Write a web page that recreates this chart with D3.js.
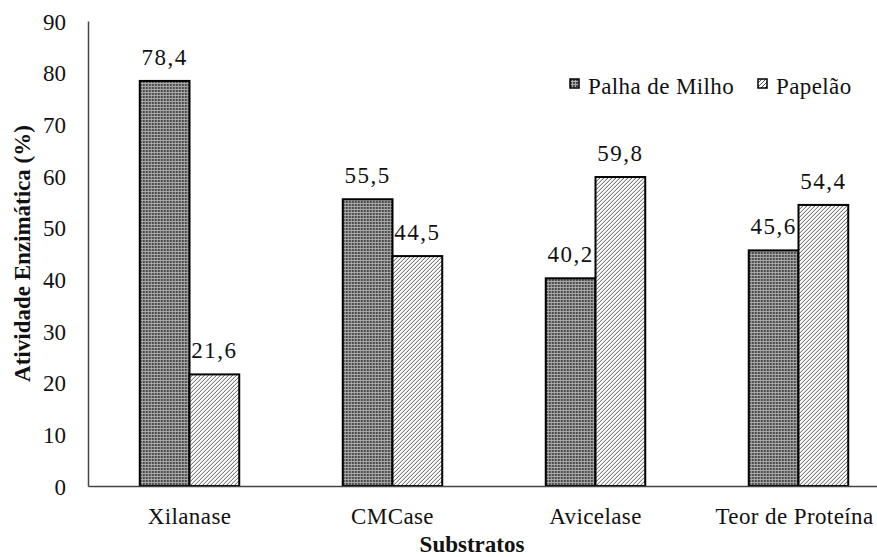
<!DOCTYPE html>
<html>
<head>
<meta charset="utf-8">
<script src="https://cdn.jsdelivr.net/npm/d3@7/dist/d3.min.js"></script>
<style>
  html, body { margin: 0; padding: 0; background: #fff; }
</style>
</head>
<body>
<svg id="chart" width="877" height="557"></svg>
<script>
// Enzyme activity by substrate, two straw sources
const categories = ["Xilanase", "CMCase", "Avicelase", "Teor de Proteína"];
const seriesNames = ["Palha de Milho", "Papelão"];
const palhaValues = [78.4, 55.5, 40.2, 45.6];
const papelaoValues = [21.6, 44.5, 59.8, 54.4];
const yTicks = [0, 10, 20, 30, 40, 50, 60, 70, 80, 90];

const FAMILY = "'Liberation Serif', 'Times New Roman', serif";
const FONT = 23;

const svg = d3.select("#chart");
const margin = { left: 88, top: 21, bottom: 486, right: 900 };

// Patterns: dotted dark fill and diagonal hatch
const defs = svg.append("defs");
const dots = defs.append("pattern").attr("id", "dots")
  .attr("patternUnits", "userSpaceOnUse").attr("width", 3).attr("height", 3);
dots.append("rect").attr("width", 3).attr("height", 3).attr("fill", "#a8a8a8");
dots.append("rect").attr("width", 2).attr("height", 2).attr("fill", "#4a4a4a");

const hatch = defs.append("pattern").attr("id", "hatch")
  .attr("patternUnits", "userSpaceOnUse").attr("width", 4).attr("height", 4);
hatch.append("rect").attr("width", 4).attr("height", 4).attr("fill", "#fff");
hatch.append("path").attr("d", "M-1,1 L1,-1 M0,4 L4,0 M3,5 L5,3")
  .attr("stroke", "#555").attr("stroke-width", 1);

const fills = ["url(#dots)", "url(#hatch)"];

const x0 = d3.scaleBand().domain(categories)
  .range([margin.left, margin.right]).paddingInner(0.51).paddingOuter(0.255);
const x1 = d3.scaleBand().domain(seriesNames).range([0, x0.bandwidth()]);
const y = d3.scaleLinear().domain([0, 90]).range([margin.bottom, margin.top]);

const rows = categories.map((c, i) => ({ cat: c, vals: [palhaValues[i], papelaoValues[i]] }));

// Bars
const groups = svg.append("g").selectAll("g").data(rows).join("g")
  .attr("transform", d => `translate(${x0(d.cat)},0)`);
groups.selectAll("rect").data(d => d.vals.map((v, j) => ({ v, j })))
  .join("rect")
  .attr("x", d => x1(seriesNames[d.j]))
  .attr("y", d => y(d.v))
  .attr("width", x1.bandwidth())
  .attr("height", d => y(0) - y(d.v))
  .attr("fill", d => fills[d.j])
  .attr("stroke", "#000").attr("stroke-width", 2);

// Value labels
groups.selectAll("text").data(d => d.vals.map((v, j) => ({ v, j })))
  .join("text")
  .attr("x", d => x1(seriesNames[d.j]) + x1.bandwidth() / 2)
  .attr("y", d => y(d.v) - 16)
  .attr("text-anchor", "middle")
  .style("font-family", FAMILY).style("font-size", FONT + "px")
  .attr("letter-spacing", 1.5)
  .attr("fill", "#111")
  .text(d => d3.format(".1f")(d.v).replace(".", ","));

// Y axis
const yAxis = d3.axisLeft(y).tickValues(yTicks).tickSize(0).tickPadding(22);
const gy = svg.append("g").attr("transform", `translate(${margin.left},0)`).call(yAxis);
gy.select(".domain").attr("stroke", "#444").attr("stroke-width", 1.5);
gy.selectAll("text").style("font-family", FAMILY).style("font-size", FONT + "px")
  .attr("fill", "#111").attr("dy", "0.35em");

// X axis
const xAxis = d3.axisBottom(x0).tickSize(0).tickPadding(22);
const gx = svg.append("g").attr("transform", `translate(0,${margin.bottom})`).call(xAxis);
gx.select(".domain").attr("stroke", "#444").attr("stroke-width", 1.5);
gx.selectAll("text").style("font-family", FAMILY).style("font-size", FONT + "px")
  .attr("fill", "#111").attr("letter-spacing", 0.4)
  .attr("dx", (d, i) => i === categories.length - 1 ? -4 : 0);

// Axis titles
svg.append("text")
  .attr("transform", `translate(30,${(margin.top + margin.bottom) / 2}) rotate(-90)`)
  .attr("text-anchor", "middle")
  .style("font-family", FAMILY).style("font-size", FONT + "px")
  .attr("font-weight", "bold").attr("fill", "#111")
  .text("Atividade Enzimática (%)");
svg.append("text")
  .attr("x", 472).attr("y", 552)
  .attr("text-anchor", "middle")
  .style("font-family", FAMILY).style("font-size", FONT + "px")
  .attr("font-weight", "bold").attr("fill", "#111")
  .text("Substratos");

// Legend
const legendX = [570, 758];
const legend = svg.append("g").selectAll("g").data(seriesNames).join("g")
  .attr("transform", (d, i) => `translate(${legendX[i]},79)`);
legend.append("rect").attr("width", 9).attr("height", 9)
  .attr("fill", (d, i) => fills[i]).attr("stroke", "#000").attr("stroke-width", 1.5);
legend.append("text").attr("x", 18).attr("y", 15)
  .style("font-family", FAMILY).style("font-size", FONT + "px")
  .attr("letter-spacing", 0.4)
  .attr("fill", "#111").text(d => d);
</script>
</body>
</html>
